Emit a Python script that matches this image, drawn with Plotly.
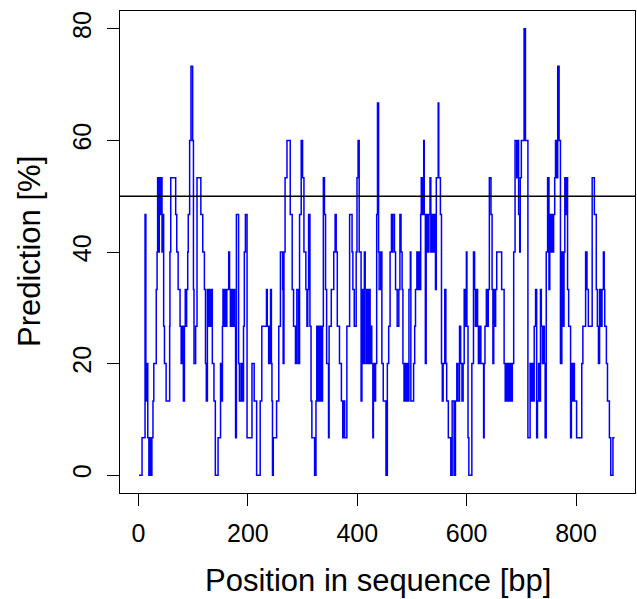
import plotly.graph_objects as go

# Step start positions (bp) and prediction level (%)
positions = [
    1, 6.5, 12, 13.5, 15.5, 17, 19, 21.5, 23, 24.5, 26.5, 28, 32.5, 34, 35, 36.5, 38, 40, 41, 43,
    45, 46, 47.5, 50.5, 57, 57.5, 59, 68, 70, 72.5, 76, 78, 79.5, 82, 84, 85.5, 87, 88, 90, 91,
    93.5, 96, 99, 100.5, 101.5, 104.5, 107, 114,
    117.5, 120.5, 122.5, 124, 126, 128, 129.5, 131.5, 133.5, 135, 138, 140.5, 145.5, 150,
    151.5, 153.5, 154.5, 156, 158, 160, 161.5, 165, 166.5, 168, 170, 172, 173.5, 176,
    177.5, 179, 183, 184.5, 187.5, 190, 192, 193.5, 195.5, 198.5, 207.5, 211.5, 216, 222.5, 225.5,
    234, 235.5, 238, 240.5, 241.5, 243, 244, 245, 246.5, 252.5, 256.5, 259.5, 263.5, 264.5, 266,
    268, 271.5, 277.5, 281, 283.5, 287, 289.5, 292.5, 294.5, 297.5, 300, 302.5, 306, 308, 309.5,
    311, 313.5, 315.5, 317, 322, 324.5, 326, 328, 330, 331, 333, 335, 336.5, 338, 340,
    342, 344,
    347.5, 348.5, 352.5, 357, 359.5, 361.5, 363.5, 367.5, 371, 373.5, 375, 377, 381, 386, 390.5,
    392, 394.5, 398, 399.5, 401.5, 403.5, 407, 408.5, 409.5, 411, 412.5, 413, 414.5, 416, 417, 418,
    419.5, 420.5, 422, 423.5, 424.5, 426.5, 428.5, 429.5, 431.5, 433.5, 435.5, 437, 439, 440, 443,
    445, 447.5, 452.5, 455, 457.5, 460,
    462.5, 464, 465, 468, 470, 473, 476, 478, 480, 482, 483.5, 485.5, 487.5, 489, 491, 493, 494.5,
    497, 498, 503, 505, 506.5, 509, 511, 512.5, 514.5, 516, 517, 519, 520, 521.5, 522.5,
    524.5, 526, 527.5, 528, 529.5, 531, 533, 534.5, 536.5, 537.5, 538.5, 539.5, 541, 543,
    544.5, 548, 549, 552, 554, 555.5, 557, 560, 562, 563.5, 566.5, 571, 573.5,
    577, 579.5, 582, 584, 587, 589, 591.5, 593.5, 595.5, 598, 599.5, 600.5, 602.5, 604, 609.5,
    612.5, 614.5, 616, 618, 620, 621.5, 623.5, 626, 631, 632, 633.5, 636, 637, 639.5,
    641.5, 644.5, 646.5, 648, 649.5, 651.5, 653, 655, 664, 668.5, 670.5, 672.5, 674.5, 676, 678, 680, 681.5,
    683.5, 686, 688.5, 691.5,
    693, 695, 697, 698, 700, 705, 707.5, 712, 716, 718, 719.5, 721.5, 723.5, 726,
    728, 729.5, 731.5, 733.5, 735, 736.5, 738.5, 740.5, 742, 743.5, 745.5, 748, 750.5, 752, 753.5,
    755.5, 757, 759, 761, 762.5, 764.5, 766.5, 769, 771.5, 774, 776, 778, 779.5, 781.5, 783.5,
    784.5, 786.5, 790, 791.5, 793.5, 795.5, 797, 801,
    810.5, 812.5, 817.5, 820, 822.5, 829.5, 833.5, 837, 839, 841, 843, 845, 847.5, 850,
    851.5, 852.5, 855.5, 857.5, 861, 863.5, 867.5, 870.5,
]

prediction = [
    0, 6.7, 46.7, 13.3, 20, 6.7, 0, 6.7, 0, 6.7, 13.3, 20, 33.3, 40, 53.3, 40, 53.3, 46.7, 53.3, 40,
    46.7, 26.7, 20, 13.3, 26.7, 40, 53.3, 46.7, 40, 33.3, 26.7, 20, 26.7, 13.3, 26.7, 33.3, 26.7, 33.3, 40, 46.7,
    60, 73.3, 60, 33.3, 20, 26.7, 53.3, 46.7,
    40, 33.3, 20, 13.3, 33.3, 26.7, 33.3, 26.7, 33.3, 20, 13.3, 0, 6.7, 20,
    13.3, 26.7, 33.3, 26.7, 33.3, 26.7, 33.3, 40, 33.3, 26.7, 33.3, 26.7, 33.3, 26.7,
    6.7, 46.7, 20, 13.3, 20, 13.3, 26.7, 40, 46.7, 6.7, 20, 13.3, 0, 13.3, 26.7,
    33.3, 26.7, 20, 26.7, 33.3, 20, 13.3, 0, 6.7, 13.3, 26.7, 40, 33.3, 20, 40,
    53.3, 60, 46.7, 33.3, 26.7, 20, 33.3, 20, 46.7, 60, 53.3, 40, 33.3, 26.7, 33.3,
    46.7, 26.7, 13.3, 6.7, 0, 13.3, 26.7, 13.3, 26.7, 13.3, 26.7, 13.3, 26.7, 53.3, 46.7,
    33.3, 20,
    6.7, 26.7, 33.3, 40, 46.7, 40, 26.7, 20, 13.3, 6.7, 13.3, 6.7, 26.7, 46.7, 40,
    33.3, 26.7, 40, 53.3, 60, 40, 13.3, 33.3, 20, 33.3, 20, 40, 33.3, 20, 33.3, 20,
    33.3, 20, 33.3, 20, 26.7, 20, 6.7, 20, 13.3, 20, 46.7, 66.7, 40, 33.3, 40,
    20, 13.3, 0, 20, 26.7, 40,
    46.7, 40, 46.7, 40, 33.3, 26.7, 33.3, 46.7, 40, 33.3, 20, 13.3, 20, 13.3, 20, 13.3, 33.3,
    40, 13.3, 20, 26.7, 33.3, 40, 33.3, 40, 33.3, 46.7, 53.3, 46.7, 53.3, 60, 46.7,
    20, 46.7, 40, 46.7, 40, 46.7, 53.3, 40, 46.7, 40, 46.7, 40, 46.7, 33.3,
    53.3, 66.7, 53.3, 46.7, 20, 13.3, 20, 33.3, 20, 13.3, 6.7, 0, 13.3,
    0, 13.3, 20, 13.3, 26.7, 20, 13.3, 20, 33.3, 26.7, 40, 26.7, 6.7, 0, 20,
    40, 33.3, 26.7, 33.3, 26.7, 20, 26.7, 20, 6.7, 20, 26.7, 33.3, 26.7, 33.3,
    53.3, 46.7, 33.3, 20, 33.3, 26.7, 33.3, 40, 33.3, 20, 13.3, 20, 13.3, 20, 13.3, 20, 13.3,
    20, 40, 60, 53.3,
    60, 46.7, 40, 53.3, 60, 80, 60, 6.7, 20, 13.3, 20, 13.3, 26.7, 33.3,
    6.7, 13.3, 20, 13.3, 33.3, 26.7, 20, 26.7, 20, 6.7, 40, 53.3, 33.3, 46.7, 40,
    46.7, 40, 46.7, 53.3, 60, 53.3, 73.3, 60, 20, 40, 26.7, 40, 53.3, 46.7, 53.3,
    33.3, 26.7, 6.7, 20, 13.3, 20, 13.3, 6.7,
    20, 26.7, 40, 33.3, 26.7, 53.3, 46.7, 33.3, 26.7, 20, 33.3, 26.7, 33.3, 40,
    33.3, 26.7, 20, 13.3, 6.7, 0, 6.7, 6.7,
]

threshold = 50
x_ticks = [0, 200, 400, 600, 800]
y_ticks = [0, 20, 40, 60, 80]

FONT = "Liberation Sans, Arial, Helvetica, sans-serif"

fig = go.Figure()
fig.add_trace(go.Scatter(
    x=positions, y=prediction, mode="lines",
    line=dict(color="#0000FF", width=1.5, shape="hv"),
    hoverinfo="x+y", showlegend=False,
))

fig.add_shape(type="line", xref="paper", yref="y", x0=0, x1=1,
              y0=threshold, y1=threshold, line=dict(color="black", width=1.5))

fig.update_layout(
    width=637, height=599,
    margin=dict(l=120, r=2, t=11, b=106, pad=0),
    paper_bgcolor="white", plot_bgcolor="white",
    font=dict(family=FONT, size=25, color="black"),
    xaxis=dict(
        range=[-33.8, 907.8], tickvals=x_ticks, ticktext=[str(v) for v in x_ticks],
        showgrid=False, zeroline=False, showline=True, mirror=True,
        linecolor="black", linewidth=1.3,
        ticks="outside", ticklen=12, tickwidth=1.3, tickcolor="black",
        tickfont=dict(size=25), ticklabelstandoff=6,
    ),
    yaxis=dict(
        range=[-3.2, 83.2], tickvals=y_ticks, ticktext=[str(v) for v in y_ticks],
        showgrid=False, zeroline=False, showline=True, mirror=True,
        linecolor="black", linewidth=1.3,
        ticks="outside", ticklen=12, tickwidth=1.3, tickcolor="black",
        tickfont=dict(size=25), tickangle=-90, ticklabelstandoff=6,
    ),
    annotations=[
        dict(text="Position in sequence [bp]", xref="paper", yref="paper",
             x=0.5, y=0, xanchor="center", yanchor="middle", yshift=-87,
             showarrow=False, font=dict(size=31, family=FONT)),
        dict(text="Prediction [%]", xref="paper", yref="paper",
             x=0, y=0.5, xanchor="center", yanchor="middle", xshift=-91,
             textangle=-90, showarrow=False, font=dict(size=31, family=FONT)),
    ],
)

fig.write_html("out.html")
